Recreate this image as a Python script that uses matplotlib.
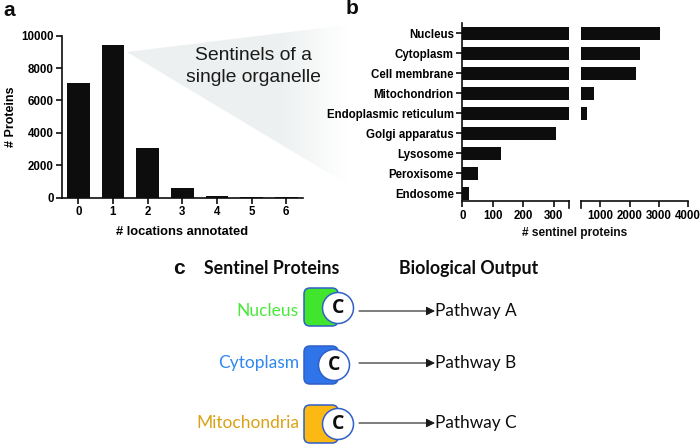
import numpy as np
import matplotlib
matplotlib.use("Agg")
import matplotlib.pyplot as plt
from matplotlib.patches import Polygon, FancyBboxPatch, Circle

# panel a
locations = [0, 1, 2, 3, 4, 5, 6]
protein_counts = [7100, 9400, 3050, 580, 100, 30, 20]

# panel b
organelles = ["Nucleus", "Cytoplasm", "Cell membrane", "Mitochondrion", "Endoplasmic reticulum",
              "Golgi apparatus", "Lysosome", "Peroxisome", "Endosome"]
sentinel_counts = [3020, 2345, 2220, 800, 545, 307, 128, 52, 23]

# panel c
compartments = ["Nucleus", "Cytoplasm", "Mitochondria"]
pathways = ["Pathway A", "Pathway B", "Pathway C"]

W, H = 700, 444
BLACK = "#0d0d0d"
plt.rcParams["font.family"] = ["Liberation Sans", "DejaVu Sans"]
plt.rcParams["font.weight"] = "bold"


def px_axes(x0, y0, x1, y1):
    # axes box given in picture pixels, y counted from the top
    return fig.add_axes([x0 / W, 1 - y1 / H, (x1 - x0) / W, (y1 - y0) / H], facecolor="none")


def style(ax):
    for s in ["top", "right"]:
        ax.spines[s].set_visible(False)
    for s in ["left", "bottom"]:
        ax.spines[s].set_linewidth(1.2)
        ax.spines[s].set_color(BLACK)
    ax.tick_params(width=1.2, length=4.5, labelsize=8.3, pad=1.5, color=BLACK)


fig = plt.figure(figsize=(7, 4.44), dpi=100)

# background layer in pixels: callout wedge and panel c
bg = fig.add_axes([0, 0, 1, 1])
bg.set_xlim(0, W)
bg.set_ylim(H, 0)
bg.axis("off")

# pale grey fading out to the right
fade = np.clip((347 - np.linspace(127, 347, 256)) / 65, 0, 1)
rgb = np.dstack([1 - 0.07 * fade, 1 - 0.055 * fade, 1 - 0.055 * fade])
im = bg.imshow(rgb, extent=[127, 347, 190, 20], aspect="auto", zorder=0)
wedge = Polygon([(127, 52), (347, 25), (347, 184)], closed=True, transform=bg.transData,
                facecolor="none", edgecolor="none")
bg.add_patch(wedge)
im.set_clip_path(wedge)
bg.set_xlim(0, W)
bg.set_ylim(H, 0)

bg.text(253, 55, "Sentinels of a", fontsize=13.85, fontweight="normal", ha="center", va="center", color="#1a1a1a")
bg.text(253, 78, "single organelle", fontsize=13.85, fontweight="normal", ha="center", va="center", color="#1a1a1a")

bg.text(3, 11, "a", fontsize=15, ha="left", va="center", color=BLACK)
bg.text(346, 9, "b", fontsize=15, ha="left", va="center", color=BLACK)
bg.text(173, 268, "c", fontsize=15, ha="left", va="center", color=BLACK)

bg.text(204, 268, "Sentinel Proteins", fontsize=12.8, family="Lato", ha="left", va="center", color=BLACK)
bg.text(399, 268, "Biological Output", fontsize=12.8, family="Lato", ha="left", va="center", color=BLACK)

label_colors = ["#4be83c", "#2f88f0", "#d9a216"]
fill_colors = ["#41e62c", "#2f74e8", "#fdb913"]
row_y = [311, 363, 423]
box_top = [288, 346, 405]
circle_x = [338, 334, 338]
circle_y = [308, 365, 424]
for name, path, lc, fc, y, top, cx, cy in zip(compartments, pathways, label_colors, fill_colors,
                                               row_y, box_top, circle_x, circle_y):
    bg.text(299, y, name, color=lc, fontsize=12.5, fontweight="normal", family="Lato", ha="right", va="center")
    bg.add_patch(FancyBboxPatch((307, top + 3), 28, 32, boxstyle="round,pad=3,rounding_size=6",
                                facecolor=fc, edgecolor="#2f5fc8", linewidth=1.1, zorder=2))
    bg.add_patch(Circle((cx, cy), 15.5, facecolor="white", edgecolor="#2f5fc8", linewidth=1.1, zorder=3))
    bg.text(cx, cy, "C", fontsize=14, family="Open Sans", color=BLACK, ha="center", va="center", zorder=4)
    bg.annotate("", xy=(435, y), xytext=(359, y),
                arrowprops=dict(arrowstyle="-|>", color="#1a1a1a", lw=0.8, mutation_scale=13, shrinkA=0, shrinkB=0))
    bg.text(435, y, path, fontsize=12.4, fontweight="normal", family="Lato", ha="left", va="center", color=BLACK)

# panel a
ax1 = px_axes(62, 35.7, 303, 197.7)
ax1.bar(locations, protein_counts, width=0.66, color=BLACK)
ax1.set_xlim(-0.47, 6.48)
ax1.set_ylim(0, 10000)
ax1.set_xticks(locations)
ax1.set_yticks([0, 2000, 4000, 6000, 8000, 10000])
style(ax1)
ax1.set_xlabel("# locations annotated", fontsize=9.3, labelpad=6, fontweight="bold")
ax1.set_ylabel("# Proteins", fontsize=9, labelpad=3, fontweight="bold")

# panel b, broken x axis
ypos = np.arange(len(organelles))
ax2 = px_axes(462.3, 22.7, 569, 201.3)
ax2.barh(ypos, sentinel_counts, height=0.66, color=BLACK)
ax2.set_xlim(0, 350)
ax2.set_ylim(8.4, -0.53)
ax2.set_yticks(ypos)
ax2.set_yticklabels(organelles)
ax2.set_xticks([0, 100, 200, 300])
style(ax2)
ax2.plot([1, 1], [0, -0.035], transform=ax2.transAxes, color=BLACK, lw=1.2, clip_on=False)

ax3 = px_axes(581.3, 22.7, 688.3, 201.3)
ax3.barh(ypos, sentinel_counts, height=0.66, color=BLACK)
ax3.set_xlim(350, 4000)
ax3.set_ylim(8.4, -0.53)
ax3.set_xticks([1000, 2000, 3000, 4000])
ax3.set_yticks([])
style(ax3)
ax3.spines["left"].set_visible(False)
ax3.plot([0, 0], [0, -0.035], transform=ax3.transAxes, color=BLACK, lw=1.2, clip_on=False)

bg.text(575, 233, "# sentinel proteins", fontsize=8.6, ha="center", va="center", color=BLACK)

fig.savefig("out.png", dpi=100)
